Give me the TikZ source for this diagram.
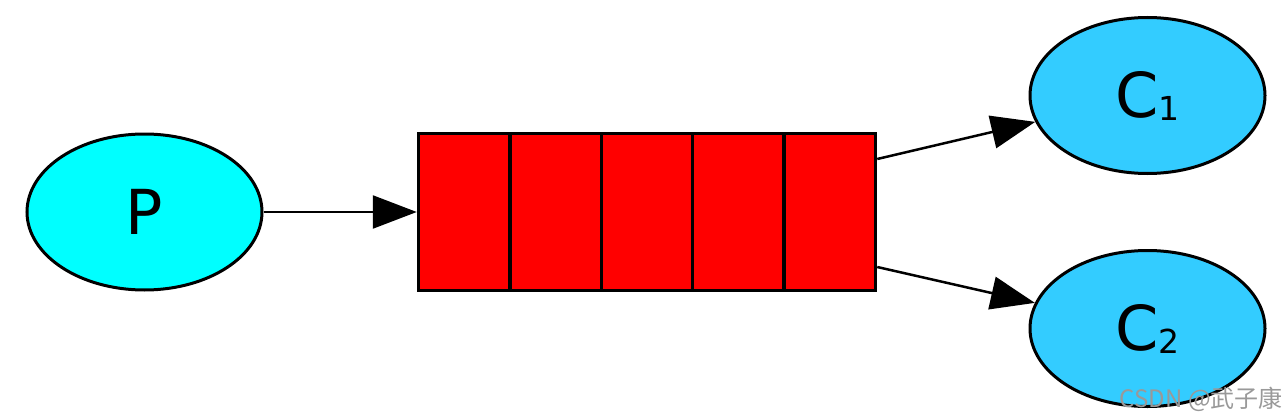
\documentclass[tikz,border=0pt]{standalone}
\usepackage{fontspec}
\setmainfont{DejaVu Sans}
\newfontfamily\cjk{Noto Sans CJK SC}
\usetikzlibrary{arrows.meta,shapes.geometric}
\definecolor{pcyan}{HTML}{00FFFF}
\definecolor{cblue}{HTML}{33CCFF}
\definecolor{qred}{HTML}{FF0000}
\tikzset{
  ell/.style={ellipse, draw=black, line width=3pt, minimum width=235pt, minimum height=156pt, inner sep=0pt, font=\fontsize{62}{62}\selectfont},
  cell/.style={rectangle, draw=black, line width=3.5pt, fill=qred, minimum width=91.4pt, minimum height=157pt, inner sep=0pt},
  conn/.style={line width=2.5pt, -{Triangle[length=44pt,width=33pt]}},
}
\newcommand{\subidx}[1]{\raisebox{-3pt}{\fontsize{33}{33}\selectfont #1}}
\begin{document}
\begin{tikzpicture}[x=1pt,y=-1pt]
\useasboundingbox (0,0) rectangle (1286,420);
\node[ell, fill=pcyan] (p) at (144.5,212) {P};
\node[cell] (q1) at (464.2,212) {};
\node[cell] (q2) at (555.6,212) {};
\node[cell] (q3) at (647.0,212) {};
\node[cell] (q4) at (738.4,212) {};
\node[cell] (q5) at (829.8,212) {};
\node[ell, fill=cblue] (c1) at (1147.5,95.5) {C\subidx{1}};
\node[ell, fill=cblue] (c2) at (1147.5,328.5) {C\subidx{2}};
\coordinate (o1) at ([yshift=53pt]q5.east);
\coordinate (o2) at ([yshift=-55pt]q5.east);
\draw[conn] (p.east) -- (q1.west);
\draw[conn] (o1) -- (c1);
\draw[conn] (o2) -- (c2);
\node[text=black!40, font=\cjk\fontsize{24}{24}\selectfont, anchor=east, inner sep=0pt] (wm) at (1283,399) {CSDN @武子康};
\end{tikzpicture}
\end{document}
